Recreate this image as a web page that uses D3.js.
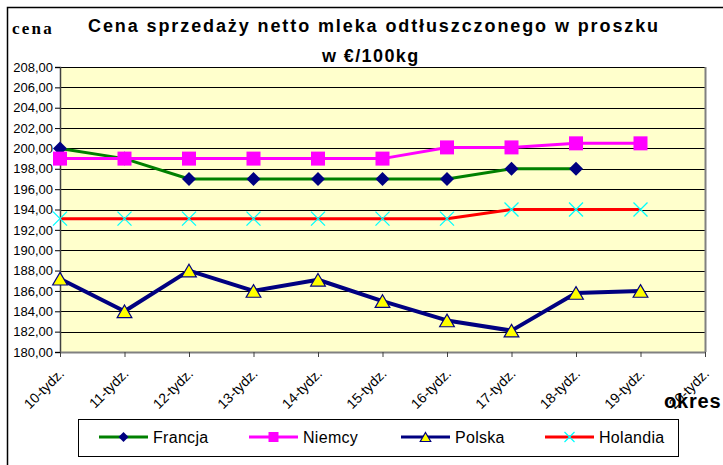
<!DOCTYPE html>
<html>
<head>
<meta charset="utf-8">
<script src="https://cdn.jsdelivr.net/npm/d3@7"></script>
<style>
  body { margin: 0; background: #fff; }
  svg { display: block; font-family: Arial, "Liberation Sans", sans-serif; }
</style>
</head>
<body>
<div id="chart"></div>
<script>
// chart data
var weeks = ["10-tydz.", "11-tydz.", "12-tydz.", "13-tydz.", "14-tydz.", "15-tydz.",
             "16-tydz.", "17-tydz.", "18-tydz.", "19-tydz.", "20-tydz."];
var francja  = [200, 199, 197, 197, 197, 197, 197, 198, 198, null, null];
var niemcy   = [199, 199, 199, 199, 199, 199, 200.1, 200.1, 200.5, 200.5, null];
var polska   = [187.2, 184, 188, 186, 187.1, 185, 183.1, 182.1, 185.8, 186, null];
var holandia = [193.1, 193.1, 193.1, 193.1, 193.1, 193.1, 193.1, 194, 194, 194, null];
var yTicks = [180, 182, 184, 186, 188, 190, 192, 194, 196, 198, 200, 202, 204, 206, 208];

var series = [
    {name: "Francja",  values: francja,  line: "#008000", lw: 3, marker: "diamond",  fill: "#000080", stroke: "none",    lx: 99},
    {name: "Niemcy",   values: niemcy,   line: "#FF00FF", lw: 3, marker: "square",   fill: "#FF00FF", stroke: "none",    lx: 249},
    {name: "Polska",   values: polska,   line: "#000080", lw: 4, marker: "triangle", fill: "#FFFF00", stroke: "#000080", lx: 401},
    {name: "Holandia", values: holandia, line: "#FF0000", lw: 3, marker: "x",        fill: "none",    stroke: "#00FFFF", lx: 545}
];

var W = 723, H = 465;
var plot = {left: 60, right: 705, top: 67, bottom: 352};

var svg = d3.select("#chart").append("svg").attr("width", W).attr("height", H);

// outer chart frame (cut off at right / bottom)
svg.append("rect").attr("x", 7.5).attr("y", 7.5).attr("width", 800).attr("height", 600)
    .attr("fill", "#fff").attr("stroke", "#000").attr("stroke-width", 1.5);

var x = d3.scalePoint().domain(weeks).range([plot.left, plot.right]).padding(0);
var y = d3.scaleLinear().domain([180, 208]).range([plot.bottom, plot.top]);

// plot background
svg.append("rect").attr("x", plot.left).attr("y", plot.top)
    .attr("width", plot.right - plot.left).attr("height", plot.bottom - plot.top)
    .attr("fill", "#FFFFCC");

// gridlines
svg.append("g").selectAll("line").data(yTicks.slice(1)).enter().append("line")
    .attr("x1", plot.left).attr("x2", plot.right)
    .attr("y1", function(d){ return Math.round(y(d)) + 0.5; })
    .attr("y2", function(d){ return Math.round(y(d)) + 0.5; })
    .attr("stroke", "#000").attr("stroke-width", 1);

// right border
svg.append("line").attr("x1", plot.right + 0.5).attr("x2", plot.right + 0.5)
    .attr("y1", plot.top).attr("y2", plot.bottom).attr("stroke", "#808080").attr("stroke-width", 2);

// y axis
var yAxis = svg.append("g").attr("transform", "translate(" + plot.left + ",0)")
    .call(d3.axisLeft(y).tickValues(yTicks).tickSize(5).tickPadding(2)
        .tickFormat(function(d){ return d.toFixed(2).replace(".", ","); }));
yAxis.select(".domain").attr("stroke", "#404040").attr("stroke-width", 1.5);
yAxis.selectAll(".tick line").attr("stroke", "#000");
yAxis.selectAll("text").attr("font-size", 13).attr("fill", "#000")
    .style("font-family", "Arial, 'Liberation Sans', sans-serif");

// x axis
var xAxis = svg.append("g").attr("transform", "translate(0," + plot.bottom + ")")
    .call(d3.axisBottom(x).tickSize(5).tickSizeOuter(0));
xAxis.select(".domain").attr("stroke", "#808080").attr("stroke-width", 2);
xAxis.selectAll(".tick line").attr("stroke", "#404040");
xAxis.selectAll("text")
    .attr("font-size", 14).attr("fill", "#000")
    .style("font-family", "Arial, 'Liberation Sans', sans-serif")
    .attr("text-anchor", "end").attr("x", 0).attr("y", 0).attr("dy", "0.35em")
    .attr("transform", "translate(1,19) rotate(-45)");

function markerPath(type, s) {
    var h = s / 2;
    if (type == "diamond") return "M0," + (-h) + "L" + h + ",0L0," + h + "L" + (-h) + ",0Z";
    if (type == "square") return "M" + (-h) + "," + (-h) + "h" + s + "v" + s + "h" + (-s) + "Z";
    if (type == "triangle") return "M0," + (-h * 0.9) + "L" + (h * 1.05) + "," + (h * 0.9) + "L" + (-h * 1.05) + "," + (h * 0.9) + "Z";
    return "M" + (-h) + "," + (-h) + "L" + h + "," + h + "M" + (-h) + "," + h + "L" + h + "," + (-h);
}

var line = d3.line()
    .defined(function(d){ return d != null; })
    .x(function(d, i){ return x(weeks[i]); })
    .y(function(d){ return y(d); });

series.forEach(function(s){
    var g = svg.append("g").attr("class", "series");
    g.append("path").attr("d", line(s.values))
        .attr("fill", "none").attr("stroke", s.line).attr("stroke-width", s.lw)
        .attr("stroke-linejoin", "round");
    g.selectAll("path.mk").data(s.values.map(function(v, i){ return {v: v, i: i}; })
            .filter(function(d){ return d.v != null; }))
        .enter().append("path").attr("class", "mk")
        .attr("transform", function(d){ return "translate(" + x(weeks[d.i]) + "," + y(d.v) + ")"; })
        .attr("d", markerPath(s.marker, 14))
        .attr("fill", s.fill).attr("stroke", s.stroke)
        .attr("stroke-width", s.marker == "x" ? 1.3 : 1.2);
});

// titles
svg.append("text").attr("x", 88).attr("y", 32)
    .attr("font-size", 18).attr("font-weight", "bold").attr("letter-spacing", 1.9)
    .text("Cena sprzedaży netto mleka odtłuszczonego w proszku");
svg.append("text").attr("x", 322).attr("y", 62)
    .attr("font-size", 18).attr("font-weight", "bold").attr("letter-spacing", 1.4)
    .text("w €/100kg");
svg.append("text").attr("x", 12).attr("y", 34)
    .style("font-family", "'Times New Roman', 'Liberation Serif', serif")
    .attr("font-size", 17).attr("font-weight", "bold").attr("letter-spacing", 2.2)
    .text("cena");
svg.append("text").attr("x", 664).attr("y", 408)
    .attr("font-size", 20).attr("font-weight", "bold").attr("letter-spacing", 0.8)
    .text("okres");

// legend
svg.append("rect").attr("x", 78.5).attr("y", 419.5).attr("width", 600).attr("height", 37)
    .attr("fill", "#fff").attr("stroke", "#000").attr("stroke-width", 1);
var leg = svg.append("g").selectAll("g").data(series).enter().append("g")
    .attr("transform", function(d){ return "translate(" + d.lx + ",437)"; });
leg.append("line").attr("x1", 0).attr("x2", 49).attr("y1", 0).attr("y2", 0)
    .attr("stroke", function(d){ return d.line; }).attr("stroke-width", 3);
leg.append("path").attr("transform", "translate(24.5,0)")
    .attr("d", function(d){ return markerPath(d.marker, 10); })
    .attr("fill", function(d){ return d.fill; }).attr("stroke", function(d){ return d.stroke; })
    .attr("stroke-width", 1.2);
leg.append("text").attr("x", 54).attr("y", 5.5).attr("font-size", 16).attr("letter-spacing", 0.3)
    .text(function(d){ return d.name; });
</script>
</body>
</html>
